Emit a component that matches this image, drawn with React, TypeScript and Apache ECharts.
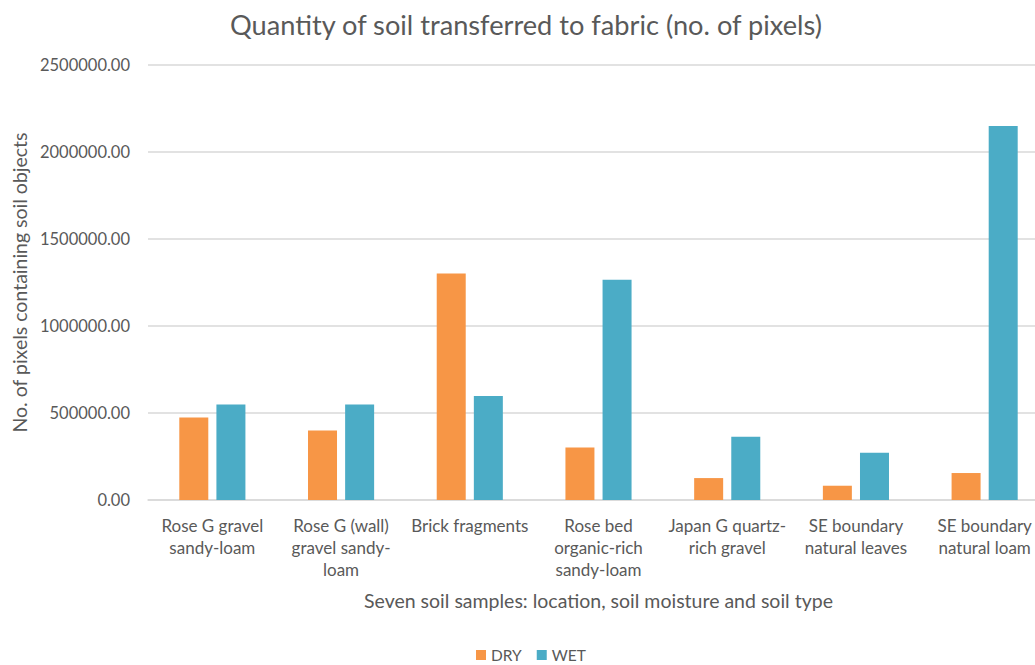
import React, { useEffect, useRef } from "react";
import * as echarts from "echarts";

const categories = [
  "Rose G gravel\nsandy-loam",
  "Rose G (wall)\ngravel sandy-\nloam",
  "Brick fragments",
  "Rose bed\norganic-rich\nsandy-loam",
  "Japan G quartz-\nrich gravel",
  "SE boundary\nnatural leaves",
  "SE boundary\nnatural loam",
];
const dryValues = [474000, 399000, 1302000, 302000, 126000, 82000, 155000];
const wetValues = [549000, 549000, 597000, 1266000, 364000, 272000, 2149000];

const FONT = "Lato";
const TEXT = "#595959";

export default function App() {
  const ref = useRef<HTMLDivElement>(null);
  useEffect(() => {
    if (!ref.current) return;
    const chart = echarts.init(ref.current, undefined, { renderer: "svg" });
    chart.setOption({
      animation: false,
      textStyle: { fontFamily: FONT },
      title: {
        text: "Quantity of soil transferred to fabric (no. of pixels)",
        left: 225,
        top: 6,
        textStyle: { fontFamily: FONT, fontSize: 27.2, fontWeight: "normal", color: TEXT },
      },
      legend: {
        top: 647,
        left: 476,
        padding: 0,
        itemWidth: 10,
        itemHeight: 10,
        itemGap: 15,
        icon: "rect",
        textStyle: { fontFamily: FONT, fontSize: 15.5, color: TEXT },
        data: ["DRY", "WET"],
      },
      grid: { left: 148, top: 65, width: 901, height: 435, containLabel: false },
      xAxis: {
        type: "category",
        data: categories,
        axisTick: { show: false },
        axisLine: { lineStyle: { color: "#d9d9d9", width: 1.5 } },
        axisLabel: {
          interval: 0,
          fontFamily: FONT,
          fontSize: 17,
          lineHeight: 22,
          color: TEXT,
          margin: 14,
        },
        name: "Seven soil samples: location, soil moisture and soil type",
        nameLocation: "middle",
        nameGap: 90,
        nameTextStyle: { fontFamily: FONT, fontSize: 19.5, color: TEXT },
      },
      yAxis: {
        type: "value",
        min: 0,
        max: 2500000,
        interval: 500000,
        axisLabel: {
          formatter: (v: number) => v.toFixed(2),
          fontFamily: FONT,
          fontSize: 16.5,
          color: TEXT,
          margin: 18,
        },
        splitLine: { lineStyle: { color: "#d9d9d9", width: 1.5 } },
        name: "No. of pixels containing soil objects",
        nameLocation: "middle",
        nameGap: 117,
        nameTextStyle: { fontFamily: FONT, fontSize: 19.5, color: TEXT },
      },
      series: [
        {
          name: "DRY",
          type: "bar",
          data: dryValues,
          barWidth: 29,
          barGap: "28%",
          itemStyle: { color: "#F79646" },
        },
        {
          name: "WET",
          type: "bar",
          data: wetValues,
          barWidth: 29,
          itemStyle: { color: "#4BACC6" },
        },
      ],
    });
    return () => chart.dispose();
  }, []);
  return (
    <div
      style={{ position: "absolute", left: 0, top: 0, width: 1035, height: 665, overflow: "hidden", background: "#fff" }}
    >
      <div ref={ref} style={{ width: 1050, height: 665 }} />
    </div>
  );
}
